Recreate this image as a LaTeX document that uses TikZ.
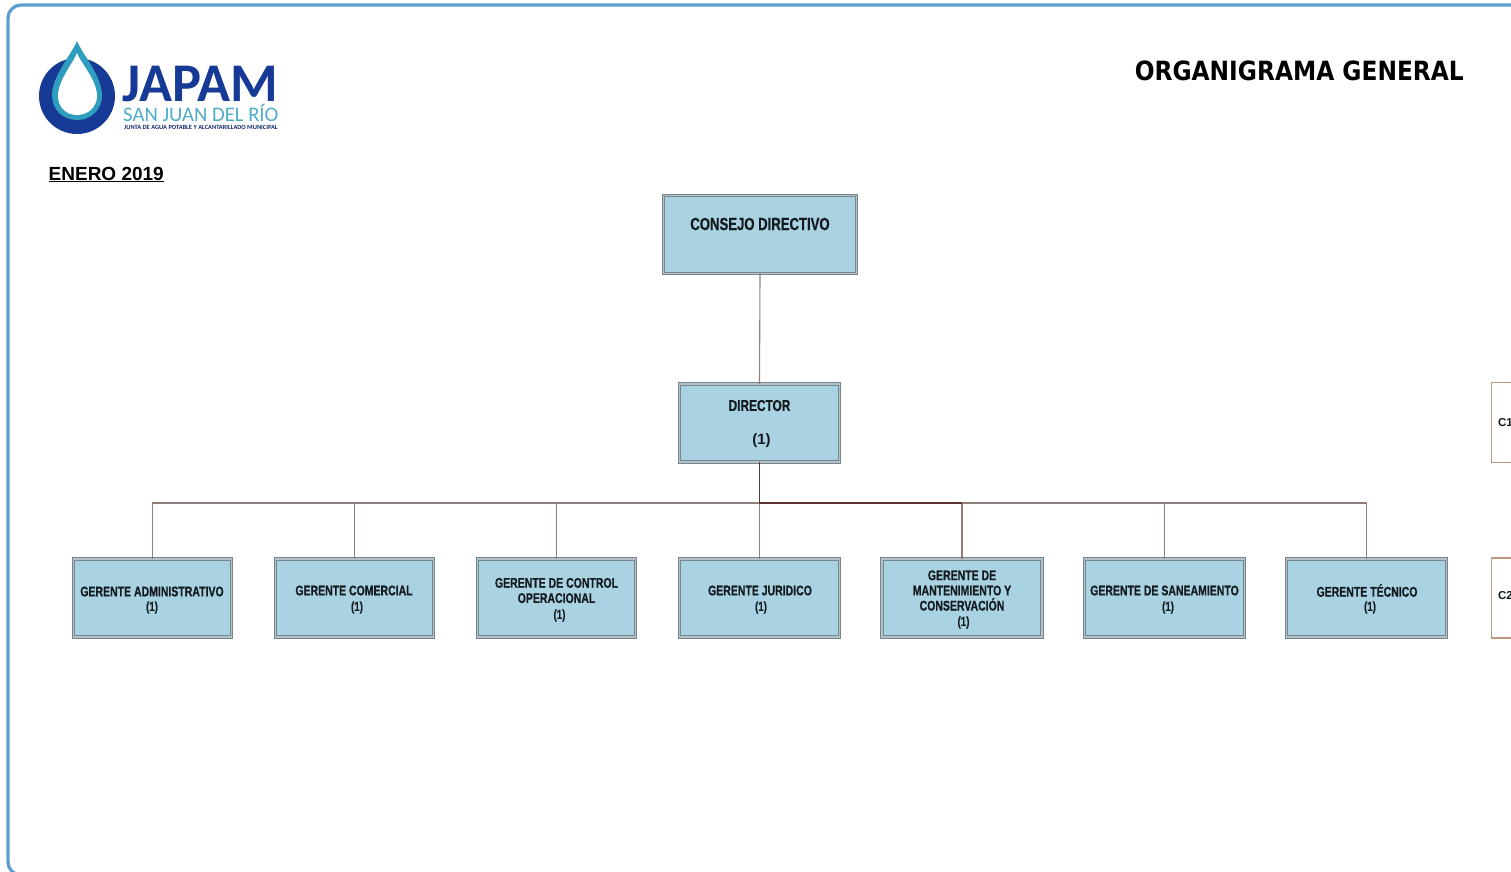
\documentclass[tikz,border=0pt]{standalone}
\usepackage{fontspec}
\setmainfont{Liberation Sans}
\newfontfamily\logofont{Carlito}
\newfontfamily\titlefont[FakeStretch=0.88]{DejaVu Sans}
\newfontfamily\narrowfont[FakeStretch=0.75,FakeBold=0.6]{Liberation Sans}
\definecolor{frameblue}{HTML}{5B9FD0}
\definecolor{boxfill}{HTML}{A9D3E2}
\definecolor{boxedge}{HTML}{74878E}
\definecolor{boxgap}{HTML}{B4C2C7}
\definecolor{wire}{HTML}{8F7F7A}
\definecolor{wiredark}{HTML}{5E3430}
\definecolor{peach}{HTML}{BF9680}
\definecolor{navy}{HTML}{173A97}
\definecolor{teal}{HTML}{2E9DBE}
\definecolor{ink}{HTML}{141A1E}
\tikzset{
  orgbox/.style={draw=boxedge,line width=0.9pt,double=boxgap,double distance=1.8pt,fill=boxfill,inner sep=0pt,outer sep=0pt,rectangle},
  sidebox/.style={draw=peach,line width=1.8pt,fill=white,inner sep=0pt,outer sep=0pt,rectangle},
  lbl/.style={inner sep=0pt,outer sep=0pt,align=center,text=ink,font=\narrowfont\bfseries\fontsize{14}{15.2}\selectfont},
  numlbl/.style={inner sep=0pt,outer sep=0pt,text=ink,font=\narrowfont\bfseries\fontsize{13}{15}\selectfont},
  wireline/.style={draw=wire,line width=1.1pt},
}
\begin{document}
\begin{tikzpicture}[x=1pt,y=-1pt]
\useasboundingbox (0,0) rectangle (1511,871);
\begin{scope}
\clip (0,0) rectangle (1511,871);
\draw[frameblue,line width=3.2pt,rounded corners=13pt] (1530,5) -- (8,5) -- (8,875) -- (40,875);
% logo
\fill[navy] (77,96) circle (38);
\fill[teal] (77,41) .. controls (81,52) and (102,76) .. (102,95) .. controls (102,110) and (91,120) .. (77,120) .. controls (63,120) and (52,110) .. (52,95) .. controls (52,76) and (73,52) .. (77,41) -- cycle;
\fill[white] (77,53) .. controls (80,62) and (97,80) .. (97,96) .. controls (97,107) and (88,115) .. (77,115) .. controls (66,115) and (58,107) .. (58,96) .. controls (58,80) and (74,62) .. (77,53) -- cycle;
\node[inner sep=0pt,anchor=base west,text depth=0pt,text=navy,font=\logofont\bfseries\fontsize{54.5}{55}\selectfont] (japam) at (122,101) {JAPAM};
\node[inner sep=0pt,anchor=base west,text height=14pt,text depth=0pt,text=teal!85!white,font=\logofont\fontsize{20.7}{22}\selectfont] (sanjuan) at (123,121) {SAN JUAN DEL RÍO};
\node[inner sep=0pt,anchor=base west,text height=4pt,text depth=0pt,text=navy!70!black,font=\logofont\bfseries\fontsize{6.4}{7}\selectfont] (junta) at (124,129) {JUNTA DE AGUA POTABLE Y ALCANTARILLADO MUNICIPAL};
% headings
\node[inner sep=0pt,anchor=base east,text=black,font=\titlefont\bfseries\fontsize{26.5}{30}\selectfont] (titulo) at (1464,80) {ORGANIGRAMA GENERAL};
\node[inner sep=0pt,anchor=base west,text=black,font=\bfseries\fontsize{19}{22}\selectfont] (fecha) at (48.5,180) {\underline{ENERO 2019}};
% boxes
\node[orgbox,minimum width=193pt,minimum height=78pt] (consejo) at (760,234.5) {};
\node[orgbox,minimum width=160pt,minimum height=78pt] (director) at (759.5,423) {};
\node[orgbox,minimum width=158pt,minimum height=78pt] (g1) at (152.5,598.2) {};
\node[orgbox,minimum width=158pt,minimum height=78pt] (g2) at (354.5,598.2) {};
\node[orgbox,minimum width=158pt,minimum height=78pt] (g3) at (556.5,598.2) {};
\node[orgbox,minimum width=160pt,minimum height=78pt] (g4) at (759.5,598.2) {};
\node[orgbox,minimum width=160pt,minimum height=78pt] (g5) at (962,598.2) {};
\node[orgbox,minimum width=160pt,minimum height=78pt] (g6) at (1164.5,598.2) {};
\node[orgbox,minimum width=160pt,minimum height=78pt] (g7) at (1366.5,598.2) {};
\node[sidebox,minimum width=80pt,minimum height=80pt,anchor=west] (c1) at (1491.5,422.5) {};
\node[sidebox,minimum width=80pt,minimum height=80pt,anchor=west] (c2) at (1491.5,598) {};
% connectors
\coordinate (bus) at (759.5,503);
\draw[wireline] (consejo.south) -- (director.north);
\draw[wireline] (g1.north) |- (bus);
\draw[wireline] (g2.north) |- (bus);
\draw[wireline] (g3.north) |- (bus);
\draw[wireline] (g4.north) -- (bus);
\draw[wireline] (g5.north) |- (bus);
\draw[wireline] (g6.north) |- (bus);
\draw[wireline] (g7.north) |- (bus);
\draw[wiredark,line width=1.4pt] (director.south) -- (bus) -- (g5.north |- bus);
% labels
\node[lbl,font=\narrowfont\bfseries\fontsize{17.5}{20}\selectfont] (t0) at (760,224) {CONSEJO DIRECTIVO};
\node[lbl,font=\narrowfont\bfseries\fontsize{15.8}{18}\selectfont] (t1) at (759.5,405.5) {DIRECTOR};
\node[numlbl,font=\bfseries\fontsize{15}{18}\selectfont] (t1b) at (761.5,441) {(1)};
\node[lbl] (t2) at (152,591.5) {GERENTE ADMINISTRATIVO};
\node[numlbl] (t2b) at (152,607.5) {(1)};
\node[lbl] (t3) at (354,590.5) {GERENTE COMERCIAL};
\node[numlbl] (t3b) at (357,607.5) {(1)};
\node[lbl] (t4) at (556.5,590.5) {GERENTE DE CONTROL\\OPERACIONAL};
\node[numlbl] (t4b) at (559.5,615.5) {(1)};
\node[lbl] (t5) at (760,590.5) {GERENTE JURIDICO};
\node[numlbl] (t5b) at (761,607.5) {(1)};
\node[lbl] (t6) at (962,590.5) {GERENTE DE\\MANTENIMIENTO Y\\CONSERVACIÓN};
\node[numlbl] (t6b) at (963.5,622.5) {(1)};
\node[lbl] (t7) at (1164.5,590.5) {GERENTE DE SANEAMIENTO};
\node[numlbl] (t7b) at (1168,607.5) {(1)};
\node[lbl] (t8) at (1367,590.5) {GERENTE TÉCNICO};
\node[numlbl] (t8b) at (1370,607.5) {(1)};
\node[lbl,anchor=west,font=\bfseries\fontsize{11.5}{13}\selectfont] (tc1) at (1498,423) {C1};
\node[lbl,anchor=west,font=\bfseries\fontsize{11.5}{13}\selectfont] (tc2) at (1498,596) {C2};
\end{scope}
\end{tikzpicture}
\end{document}
